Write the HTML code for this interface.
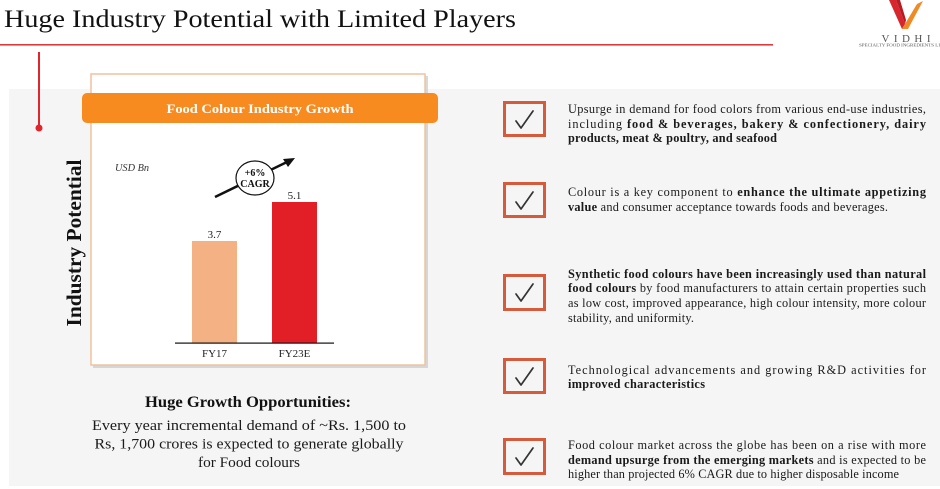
<!DOCTYPE html>
<html>
<head>
<meta charset="utf-8">
<style>
  html,body{margin:0;padding:0;background:#fff;}
  svg{display:block;}
  text{font-family:"Liberation Serif","DejaVu Serif",serif;}
</style>
</head>
<body>
<svg width="940" height="489" viewBox="0 0 940 489" xmlns="http://www.w3.org/2000/svg">
  <rect x="0" y="0" width="940" height="489" fill="#ffffff"/>
  <!-- gray panel -->
  <rect x="9" y="89" width="931" height="397" fill="#f5f5f5"/>

  <!-- title -->
  <text x="4" y="27" font-size="25" fill="#111" textLength="512" lengthAdjust="spacingAndGlyphs">Huge Industry Potential with Limited Players</text>
  <rect x="0" y="44" width="773" height="1.6" fill="#e0393e"/>

  <!-- logo -->
  <polygon points="889,0 896,0 905,24 902,29" fill="#d7262e"/>
  <polygon points="902,29 917,4 923,1 908,29" fill="#f08a24"/>
  <polygon points="896,0 900,0 906,20 905,24" fill="#b71c22"/>
  <text x="906" y="42" font-size="11" fill="#555" text-anchor="middle" textLength="49" lengthAdjust="spacing">VIDHI</text>
  <text x="859" y="46.5" font-size="4.3" fill="#555" textLength="81" lengthAdjust="spacingAndGlyphs">SPECIALTY FOOD INGREDIENTS LI</text>

  <!-- red vertical marker -->
  <rect x="38" y="52" width="2" height="76" fill="#e0252d"/>
  <circle cx="39" cy="128" r="3.5" fill="#e0252d"/>

  <!-- card -->
  <rect x="93" y="76" width="335" height="292" fill="#c9c9c9" opacity="0.7"/>
  <rect x="91" y="74" width="334" height="291" fill="#ffffff" stroke="#f1c29d" stroke-width="1.5"/>
  <rect x="82" y="93" width="356" height="30" rx="5" fill="#f78b1f"/>
  <text x="260" y="113" font-size="13" font-weight="bold" fill="#ffffff" text-anchor="middle" textLength="187" lengthAdjust="spacingAndGlyphs">Food Colour Industry Growth</text>

  <!-- Industry Potential -->
  <text transform="translate(81,243) rotate(-90)" font-size="21" font-weight="bold" fill="#111" text-anchor="middle" textLength="167" lengthAdjust="spacingAndGlyphs">Industry Potential</text>

  <!-- chart -->
  <text x="115" y="171" font-size="10" font-style="italic" fill="#333" textLength="34" lengthAdjust="spacingAndGlyphs">USD Bn</text>
  <rect x="192" y="241" width="45" height="102" fill="#f4b183"/>
  <rect x="272" y="202" width="45" height="141" fill="#e21f26"/>
  <rect x="175" y="342.5" width="159" height="1.2" fill="#111"/>
  <text x="214.5" y="238" font-size="11" fill="#222" text-anchor="middle">3.7</text>
  <text x="294.5" y="199" font-size="11" fill="#222" text-anchor="middle">5.1</text>
  <text x="214.5" y="357" font-size="11" fill="#222" text-anchor="middle">FY17</text>
  <text x="294.5" y="357" font-size="11" fill="#222" text-anchor="middle">FY23E</text>

  <!-- CAGR arrow -->
  <line x1="215" y1="197" x2="287" y2="162" stroke="#111" stroke-width="2.5"/>
  <polygon points="295,158 283,159 288,167" fill="#111"/>
  <ellipse cx="255" cy="178" rx="19" ry="17" fill="#ffffff" stroke="#111" stroke-width="1.2"/>
  <text x="255" y="176" font-size="10" font-weight="bold" fill="#111" text-anchor="middle">+6%</text>
  <text x="255" y="187" font-size="10" font-weight="bold" fill="#111" text-anchor="middle">CAGR</text>

  <!-- bottom-left text -->
  <text x="248" y="407" font-size="15.5" font-weight="bold" fill="#111" text-anchor="middle" textLength="206" lengthAdjust="spacingAndGlyphs">Huge Growth Opportunities:</text>
  <text x="249" y="430" font-size="14.8" fill="#1a1a1a" text-anchor="middle" textLength="314" lengthAdjust="spacingAndGlyphs">Every year incremental demand of ~Rs. 1,500  to</text>
  <text x="249" y="448.5" font-size="14.8" fill="#1a1a1a" text-anchor="middle" textLength="309" lengthAdjust="spacingAndGlyphs">Rs, 1,700 crores is expected to generate globally</text>
  <text x="249" y="467" font-size="14.8" fill="#1a1a1a" text-anchor="middle" textLength="102" lengthAdjust="spacingAndGlyphs">for Food colours</text>

  <!-- checkboxes -->
  <g fill="none" stroke="#d65b3c" stroke-width="3">
    <rect x="504.5" y="102.5" width="40" height="33"/>
    <rect x="504.5" y="183.5" width="40" height="33"/>
    <rect x="504.5" y="275.5" width="40" height="34"/>
    <rect x="504.5" y="359.5" width="40" height="33"/>
    <rect x="504.5" y="439.5" width="40" height="34"/>
  </g>
  <g fill="none" stroke="#333" stroke-width="1.7" stroke-linecap="round" stroke-linejoin="round">
    <path d="M516,121 L521,128 L533,111"/>
    <path d="M516,202 L521,209 L533,192"/>
    <path d="M516,294 L521,301 L533,284"/>
    <path d="M516,378 L521,385 L533,368"/>
    <path d="M516,458 L521,465 L533,448"/>
  </g>

  <!-- right paragraphs -->
  <g font-size="12.3" fill="#1a1a1a">
    <text x="568" y="113" textLength="358" lengthAdjust="spacing">Upsurge in demand for food colors from various end-use industries,</text>
    <text x="568" y="128" textLength="358" lengthAdjust="spacing">including <tspan font-weight="bold">food &amp; beverages, bakery &amp; confectionery, dairy</tspan></text>
    <text x="568" y="142" textLength="209" lengthAdjust="spacing" font-weight="bold">products, meat &amp; poultry, and seafood</text>

    <text x="568" y="196" textLength="358" lengthAdjust="spacing">Colour is a key component to <tspan font-weight="bold">enhance the ultimate appetizing</tspan></text>
    <text x="568" y="211" textLength="320" lengthAdjust="spacing"><tspan font-weight="bold">value</tspan> and consumer acceptance towards foods and beverages.</text>

    <text x="568" y="278" textLength="358" lengthAdjust="spacing" font-weight="bold">Synthetic food colours have been increasingly used than natural</text>
    <text x="568" y="292" textLength="358" lengthAdjust="spacing"><tspan font-weight="bold">food colours</tspan> by food manufacturers to attain certain properties such</text>
    <text x="568" y="307" textLength="358" lengthAdjust="spacing">as low cost, improved appearance, high colour intensity, more colour</text>
    <text x="568" y="322" textLength="126" lengthAdjust="spacing">stability, and uniformity.</text>

    <text x="568" y="374" textLength="358" lengthAdjust="spacing">Technological advancements and growing R&amp;D activities for</text>
    <text x="568" y="388" textLength="137" lengthAdjust="spacing" font-weight="bold">improved characteristics</text>

    <text x="568" y="449" textLength="358" lengthAdjust="spacing">Food colour market across the globe has been on a rise with more</text>
    <text x="568" y="464" textLength="358" lengthAdjust="spacing"><tspan font-weight="bold">demand upsurge from the emerging markets</tspan> and is expected to be</text>
    <text x="568" y="478" textLength="331" lengthAdjust="spacing">higher than projected 6% CAGR due to higher disposable income</text>
  </g>
</svg>
</body>
</html>
